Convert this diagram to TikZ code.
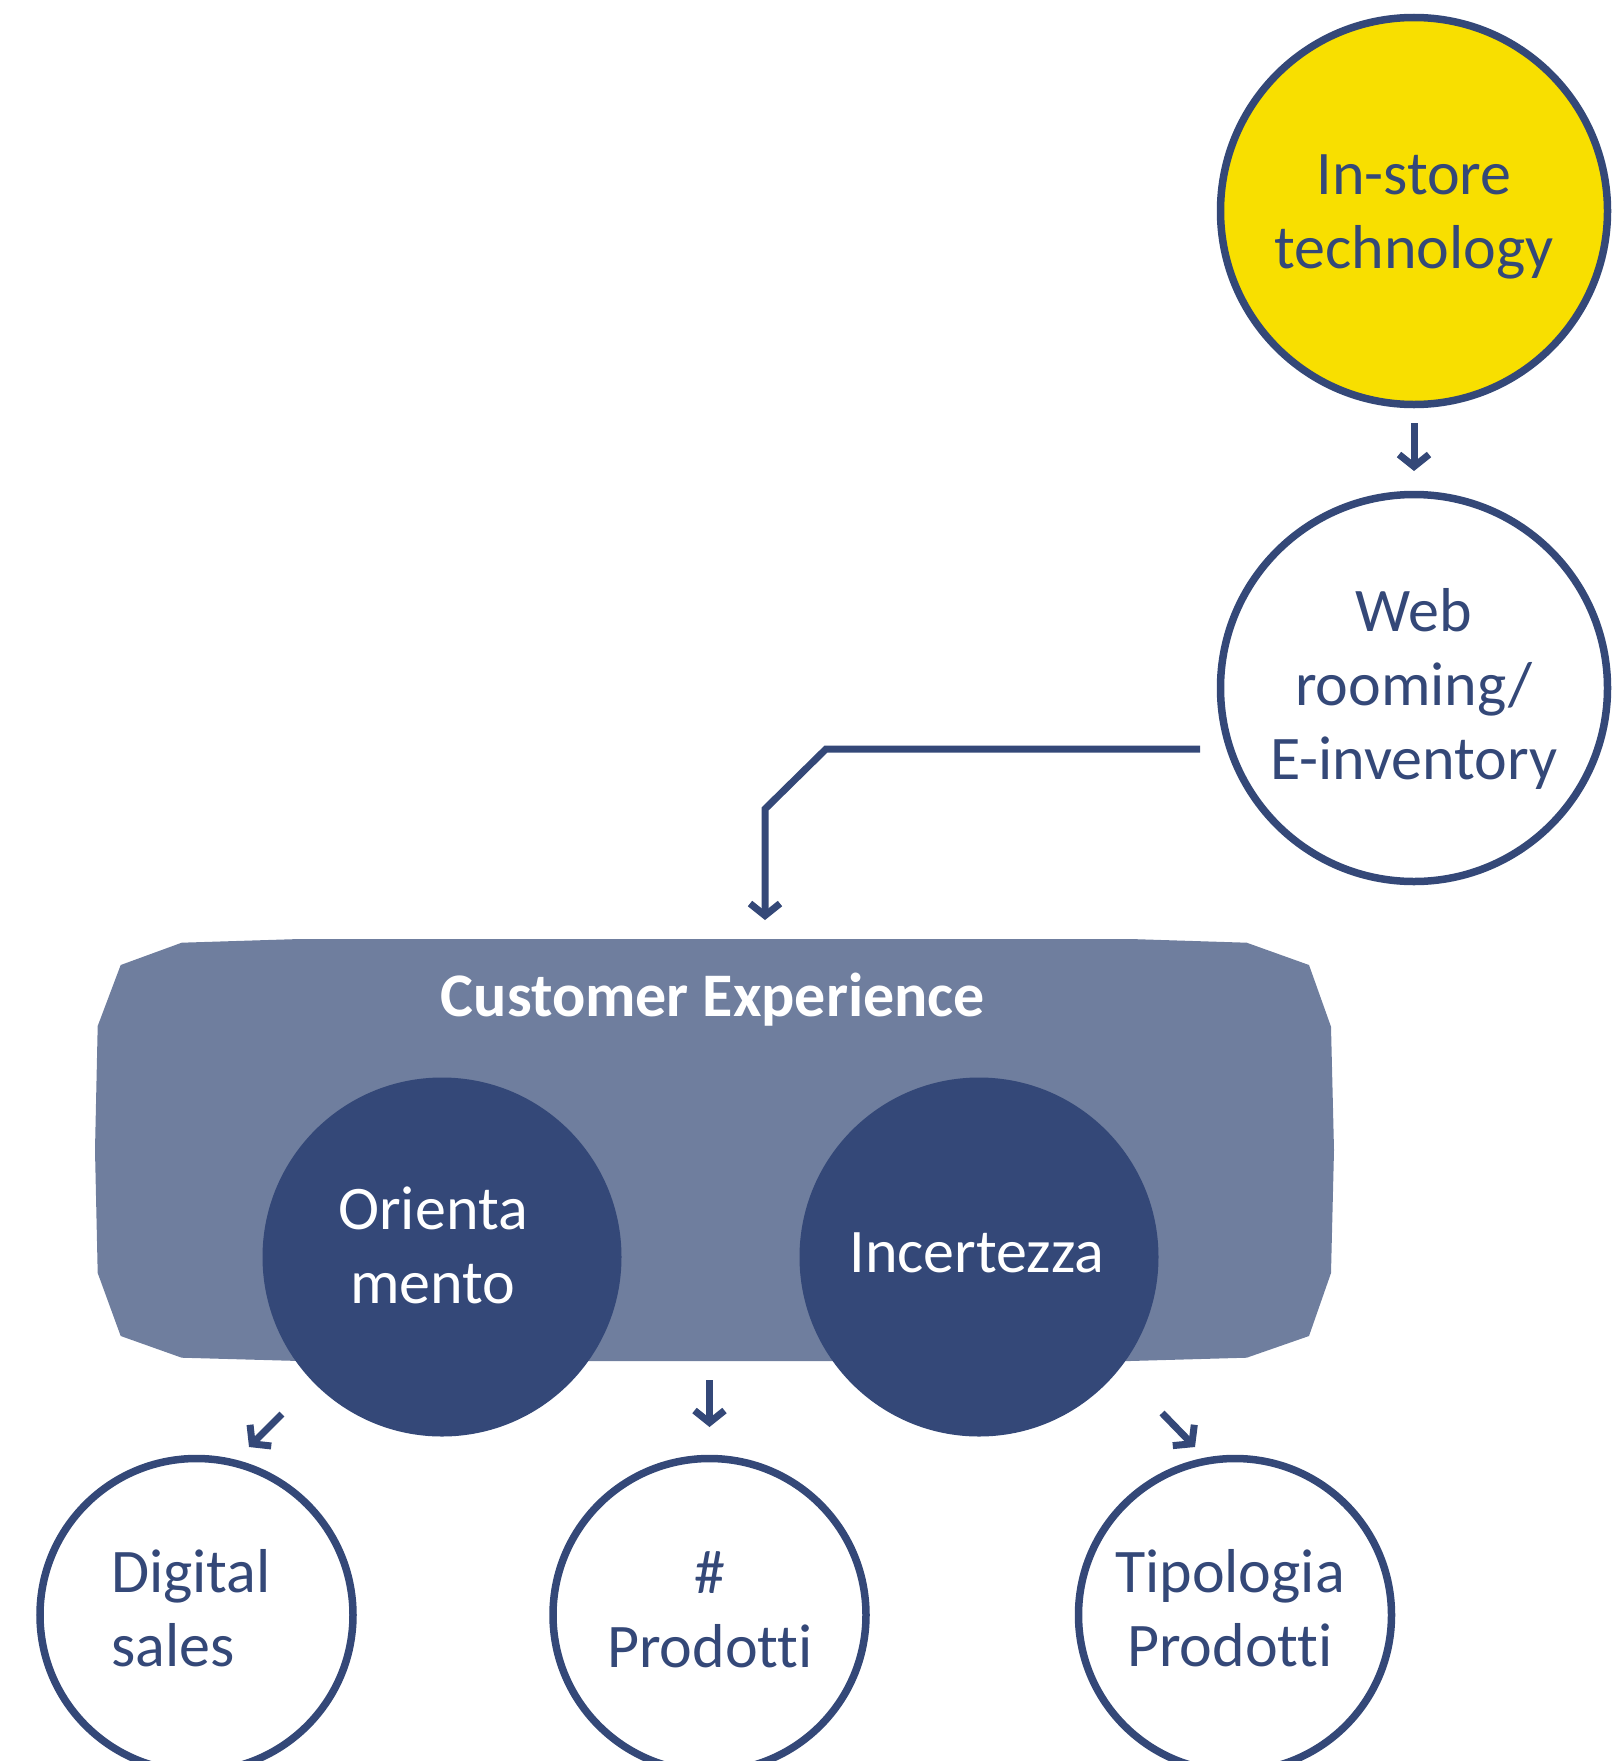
\documentclass[tikz,border=0pt]{standalone}
\usepackage{fontspec}
\setmainfont[Ligatures={NoCommon}]{Carlito}
\usetikzlibrary{arrows.meta,calc}
\definecolor{navy}{HTML}{344878}
\definecolor{slate}{HTML}{6F7E9E}
\definecolor{sun}{HTML}{F8DF00}
\begin{document}
\begin{tikzpicture}[x=1bp,y=-1bp,
  txt/.style={font=\fontsize{62bp}{74bp}\selectfont, text=navy, inner sep=0pt, align=center},
  wtxt/.style={txt, text=white},
  ring/.style={circle, draw=navy, line width=7.5bp, inner sep=0pt, outer sep=0pt},
  bigring/.style={ring, minimum size=387bp},
  smallring/.style={ring, minimum size=313bp, fill=white},
  disc/.style={circle, fill=navy, inner sep=0pt, outer sep=0pt, minimum size=359bp},
  link/.style={draw=navy, line width=7bp, -{Straight Barb[length=12bp,width=30bp]}},
]
\useasboundingbox (0,0) rectangle (1619,1761);
\clip (0,0) rectangle (1619,1761);

% top chain
\node[bigring, fill=sun] (instore) at (1414,211) {};
\node[txt] (instoreT) at (1414,216.5) {In-store\\technology};
\node[bigring, fill=white] (web) at (1414,688) {};
\node[txt] (webT) at (1414,689) {Web\\rooming/\\E-inventory};

% customer experience panel
\fill[slate] (181.7,942.7) -- (300,939) -- (1130,939) -- (1246.7,942.7)
  -- (1309,965) -- (1331,1026.7) -- (1334,1150) -- (1331,1273) -- (1309,1336)
  -- (1246.7,1357.7) -- (1130,1361) -- (300,1361) -- (181.7,1357.7)
  -- (120.7,1336) -- (97.7,1273) -- (95,1150) -- (97.7,1026) -- (120.7,965) -- cycle;
\coordinate (cxtop) at (765,939);
\node[font=\bfseries\fontsize{62bp}{74bp}\selectfont, text=white, inner sep=0pt, anchor=base] (cxT) at (713,1016) {Customer Experience};

\node[disc] (ori) at (442,1257) {};
\node[wtxt] (oriT) at (433,1245.5) {Orienta\\mento};
\node[disc] (inc) at (979,1257) {};
\node[wtxt, anchor=base] (incT) at (977,1272) {Incertezza};

% outcomes
\node[smallring] (ds) at (196.5,1615) {};
\node[txt, align=left, anchor=west] (dsT) at (111,1608) {Digital\\sales};
\node[smallring] (prod) at (709.5,1615) {};
\node[txt] (prodT) at (710,1610) {\#\\Prodotti};
\node[smallring] (tip) at (1235,1615) {};
\node[txt] (tipT) at (1230,1608) {Tipologia\\Prodotti};

% connectors
\draw[link] ($(instore.south)+(0,18.5)$) -- ($(web.north)+(0,-23.5)$);
\draw[link] ($(web.west)+(-20.5,61)$) -- ++(-374,0) -- ++(-61,60) -- ($(cxtop)+(0,-19)$);
\draw[link] ($(ori.center)+(-160,157)$) -- ($(ds.north)+(52.5,-11.5)$);
\draw[link] ($(prod.north)+(0,-78.5)$) -- ($(prod.north)+(0,-31.5)$);
\draw[link] ($(inc.center)+(183,156)$) -- ($(tip.north)+(-40,-11.5)$);
\end{tikzpicture}
\end{document}
